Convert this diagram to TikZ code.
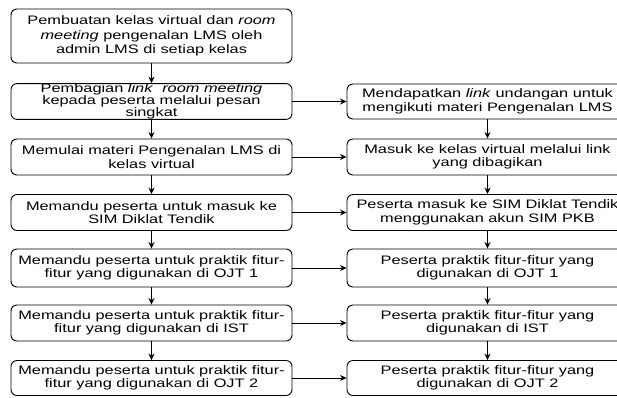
\documentclass[tikz,border=0pt]{standalone}
\usepackage{fontspec}
\setmainfont{Liberation Sans}[FakeStretch=1.33]
\usetikzlibrary{arrows.meta}
\begin{document}
\begin{tikzpicture}[x=1pt,y=-1pt,
  box/.style={draw, line width=0.9pt, rounded corners=6pt, minimum width=281pt,
    minimum height=36pt, inner sep=0pt, align=center,
    font=\fontsize{12.3}{13.5}\selectfont},
  arr/.style={-{Stealth[length=6.5pt,width=6pt]}, line width=0.9pt}]
\clip (0,0) rectangle (617,397);
\fill[white] (0,0) rectangle (617,397);
% left column
\node[box, minimum height=54pt, font=\fontsize{12.3}{14.2}\selectfont] (l1) at (151.5,36)
  {Pembuatan kelas virtual dan \textit{room}\\\textit{meeting} pengenalan LMS oleh\\admin LMS di setiap kelas};
\node[box, minimum height=35pt, font=\fontsize{12.3}{12.2}\selectfont] (l2) at (151.5,101.5)
  {Pembagian \textit{link}\ \ \textit{room meeting}\\kepada peserta melalui pesan\\singkat};
\node[box] (l3) at (151.5,157) {Memulai materi Pengenalan LMS di\\kelas virtual};
\node[box] (l4) at (151.5,212.5) {Memandu peserta untuk masuk ke\\SIM Diklat Tendik};
\node[box, minimum height=38pt] (l5) at (151.5,268) {Memandu peserta untuk praktik fitur-\\fitur yang digunakan di OJT 1};
\node[box] (l6) at (151.5,323) {Memandu peserta untuk praktik fitur-\\fitur yang digunakan di IST};
\node[box, minimum height=35pt] (l7) at (151.5,378) {Memandu peserta untuk praktik fitur-\\fitur yang digunakan di OJT 2};
% right column
\node[box, minimum height=35pt] (r1) at (487.5,101.5) {Mendapatkan \textit{link} undangan untuk\\mengikuti materi Pengenalan LMS};
\node[box] (r2) at (487.5,157) {Masuk ke kelas virtual melalui link\\yang dibagikan};
\node[box] (r3) at (487.5,212.5) {Peserta masuk ke SIM Diklat Tendik\\menggunakan akun SIM PKB};
\node[box, minimum height=38pt] (r4) at (487.5,268) {Peserta praktik fitur-fitur yang\\digunakan di OJT 1};
\node[box] (r5) at (487.5,323) {Peserta praktik fitur-fitur yang\\digunakan di IST};
\node[box, minimum height=35pt] (r6) at (487.5,378) {Peserta praktik fitur-fitur yang\\digunakan di OJT 2};
% vertical arrows
\foreach \a/\b in {l1/l2,l2/l3,l3/l4,l4/l5,l5/l6,l6/l7,r1/r2,r2/r3,r3/r4,r4/r5,r5/r6}
  \draw[arr] (\a.south) -- (\b.north);
% horizontal arrows
\foreach \a/\b in {l2/r1,l3/r2,l4/r3,l5/r4,l6/r5,l7/r6}
  \draw[arr] (\a.east) -- (\b.west);
\end{tikzpicture}
\end{document}
